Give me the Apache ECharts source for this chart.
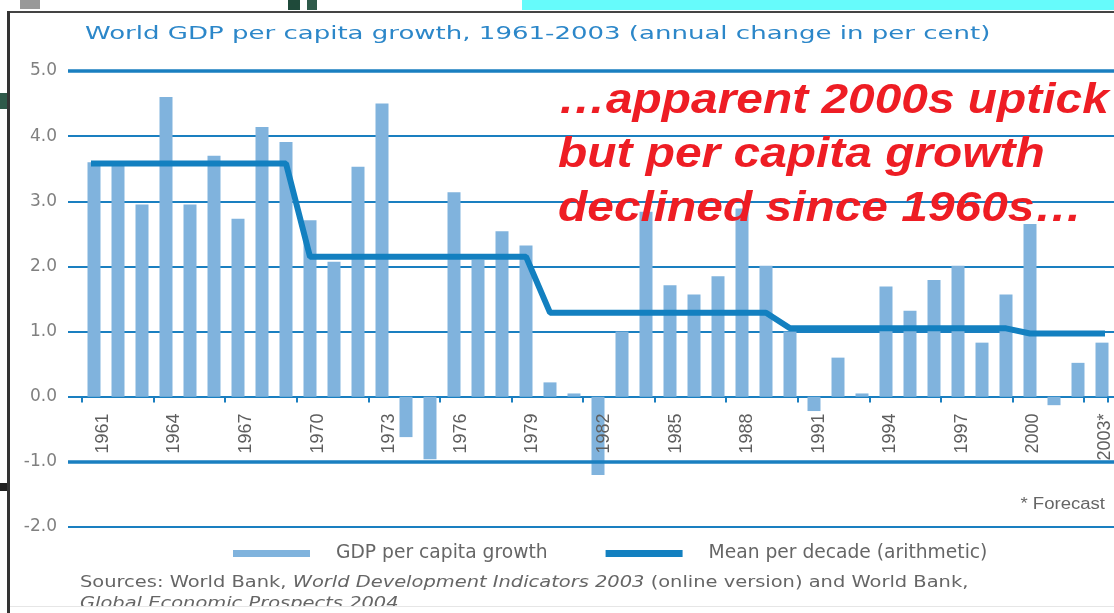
<!DOCTYPE html>
<html>
<head>
<meta charset="utf-8">
<script src="https://cdn.jsdelivr.net/npm/echarts@6/dist/echarts.min.js"></script>
<style>
  html, body { margin: 0; padding: 0; background: #fff; }
  #chart { width: 1114px; height: 613px; }
</style>
</head>
<body>
<div id="chart"></div>
<script>
// 年份 (类目)
const years = ['1961', '1962', '1963', '1964', '1965', '1966', '1967', '1968', '1969', '1970',
  '1971', '1972', '1973', '1974', '1975', '1976', '1977', '1978', '1979', '1980',
  '1981', '1982', '1983', '1984', '1985', '1986', '1987', '1988', '1989', '1990',
  '1991', '1992', '1993', '1994', '1995', '1996', '1997', '1998', '1999', '2000',
  '2001', '2002', '2003'];
// 人均GDP增长 (%)
const growth = [3.6, 3.55, 2.95, 4.6, 2.95, 3.7, 2.73, 4.14, 3.91, 2.71,
  2.07, 3.53, 4.5, -0.62, -0.96, 3.14, 2.1, 2.54, 2.32, 0.22,
  0.05, -1.2, 1.0, 2.84, 1.71, 1.57, 1.85, 2.89, 2.01, 1.0,
  -0.22, 0.6, 0.05, 1.69, 1.32, 1.79, 2.01, 0.83, 1.57, 2.65,
  -0.13, 0.52, 0.83];
// 每十年平均值
const decades = ['1960s', '1970s', '1980s', '1990s', '2000s'];
const decadeMeans = [3.58, 2.15, 1.29, 1.05, 0.97];
// 横轴显示的年份
const tickYears = ['1961', '1964', '1967', '1970', '1973', '1976', '1979', '1982',
  '1985', '1988', '1991', '1994', '1997', '2000', '2003'];
const forecastYears = ['2003'];
// 纵轴刻度
const yMin = -2, yMax = 5, yStep = 1;

const blue = '#1a7fc0';
const barColor = '#80b3dd';
const lineColor = '#1380c0';

// 每年对应所在十年的平均值
const meanLine = years.map((y) => decadeMeans[Math.floor((Number(y) - 1960) / 10)]);

const chart = echarts.init(document.getElementById('chart'));

const option = {
  backgroundColor: '#fff',
  animation: false,
  grid: [
    // 网格线 + 纵轴文字
    { left: 68, right: 0, top: 71, bottom: 86 },
    // 柱子和折线
    { left: 82, right: 0, top: 71, bottom: 86 },
    // 零线上的刻度和年份
    { left: 82, right: 0, top: 71, bottom: 216.5 },
  ],
  xAxis: [
    { gridIndex: 0, type: 'value', show: false },
    { gridIndex: 1, type: 'category', data: years, show: false },
    {
      gridIndex: 2,
      type: 'category',
      data: years,
      boundaryGap: true,
      z: 6,
      axisLine: { show: false },
      axisTick: { show: true, length: 6, lineStyle: { color: blue, width: 2 } },
      axisLabel: {
        rotate: 90,
        margin: 17,
        verticalAlign: 'top',
        interval: (idx, value) => tickYears.includes(value),
        formatter: (value) => (forecastYears.includes(value) ? value + '*' : value),
        color: '#5e5e5e',
        fontFamily: 'Liberation Sans',
        fontSize: 18,
      },
    },
  ],
  yAxis: [
    {
      gridIndex: 0,
      type: 'value',
      min: yMin,
      max: yMax,
      interval: yStep,
      axisLine: { show: false },
      axisTick: { show: false },
      splitLine: { show: true, lineStyle: { color: blue, width: 2 } },
      axisLabel: {
        margin: 11,
        formatter: (v) => v.toFixed(1),
        color: '#808080',
        fontFamily: 'DejaVu Sans',
        fontSize: 17,
      },
    },
    { gridIndex: 1, type: 'value', min: yMin, max: yMax, interval: yStep, show: false },
    { gridIndex: 2, type: 'value', min: 0, max: yMax, show: false },
  ],
  legend: {
    data: ['GDP per capita growth', 'Mean per decade (arithmetic)'],
    left: 233,
    top: 544,
    padding: 0,
    icon: 'rect',
    itemWidth: 77,
    itemHeight: 7,
    itemGap: 58,
    textStyle: {
      color: '#666',
      fontFamily: 'DejaVu Sans',
      fontSize: 18.7,
      padding: [0, 0, 0, 21],
    },
  },
  series: [
    {
      // 粗一些的 5.0 和 -1.0 线
      type: 'line',
      name: 'frame',
      xAxisIndex: 0,
      yAxisIndex: 0,
      data: [],
      silent: true,
      markLine: {
        symbol: 'none',
        silent: true,
        label: { show: false },
        lineStyle: { color: blue, width: 3.5, type: 'solid' },
        data: [{ yAxis: yMax }, { yAxis: -1 }],
      },
    },
    {
      name: 'GDP per capita growth',
      type: 'bar',
      xAxisIndex: 1,
      yAxisIndex: 1,
      data: growth,
      barWidth: 13,
      itemStyle: { color: barColor },
      z: 3,
    },
    {
      name: 'Mean per decade (arithmetic)',
      type: 'line',
      xAxisIndex: 1,
      yAxisIndex: 1,
      data: meanLine,
      showSymbol: false,
      symbol: 'none',
      lineStyle: { color: lineColor, width: 6, cap: 'square' },
      itemStyle: { color: lineColor },
      z: 4,
    },
  ],
  graphic: [
    // 标题
    {
      type: 'text',
      x: 85,
      y: 25,
      scaleX: 1.445,
      style: {
        text: 'World GDP per capita growth, 1961-2003 (annual change in per cent)',
        fill: '#2c87c9',
        font: '18px "DejaVu Sans"',
      },
    },
    {
      type: 'text',
      x: 1105,
      y: 497,
      scaleX: 1.16,
      style: {
        text: '* Forecast',
        fill: '#666',
        align: 'right',
        font: '16px "Liberation Sans"',
      },
    },
    {
      type: 'text',
      x: 80,
      y: 572,
      scaleX: 1.215,
      style: {
        text: '{n|Sources: World Bank, }{i|World Development Indicators 2003}{n| (online version) and World Bank,}\n{i|Global Economic Prospects 2004}{n|.}',
        rich: {
          n: { fill: '#666', fontFamily: 'DejaVu Sans', fontSize: 16, lineHeight: 21 },
          i: { fill: '#666', fontFamily: 'DejaVu Sans', fontStyle: 'italic', fontSize: 16, lineHeight: 21 },
        },
      },
    },
    // 底部切边
    { type: 'rect', shape: { x: 10, y: 607, width: 1104, height: 6 }, style: { fill: '#fff' }, z: 10 },
    { type: 'rect', shape: { x: 10, y: 606, width: 1104, height: 1 }, style: { fill: '#e6e6e6' }, z: 10 },
    // 边框和顶部色块
    { type: 'rect', shape: { x: 522, y: 0, width: 592, height: 10 }, style: { fill: '#66fbfb' }, z: 10 },
    { type: 'rect', shape: { x: 8, y: 11, width: 1106, height: 2 }, style: { fill: '#444' }, z: 10 },
    { type: 'rect', shape: { x: 7, y: 11, width: 3, height: 602 }, style: { fill: '#333' }, z: 10 },
    { type: 'rect', shape: { x: 0, y: 93, width: 7, height: 16 }, style: { fill: '#2f5a4a' }, z: 10 },
    { type: 'rect', shape: { x: 0, y: 483, width: 7, height: 8 }, style: { fill: '#222' }, z: 10 },
    { type: 'rect', shape: { x: 20, y: 0, width: 20, height: 9 }, style: { fill: '#999' }, z: 10 },
    { type: 'rect', shape: { x: 288, y: 0, width: 12, height: 10 }, style: { fill: '#1f4a3a' }, z: 10 },
    { type: 'rect', shape: { x: 307, y: 0, width: 10, height: 10 }, style: { fill: '#2f5a4a' }, z: 10 },
    // 红色注释
    {
      type: 'text',
      x: 558,
      y: 74,
      scaleX: 1.14,
      z: 20,
      style: {
        text: '\u2026apparent 2000s uptick\nbut per capita growth\ndeclined since 1960s\u2026',
        fill: '#ee1d24',
        font: 'italic bold 42px "Liberation Sans"',
        lineHeight: 54,
      },
    },
  ],
};

chart.setOption(option);
</script>
</body>
</html>
